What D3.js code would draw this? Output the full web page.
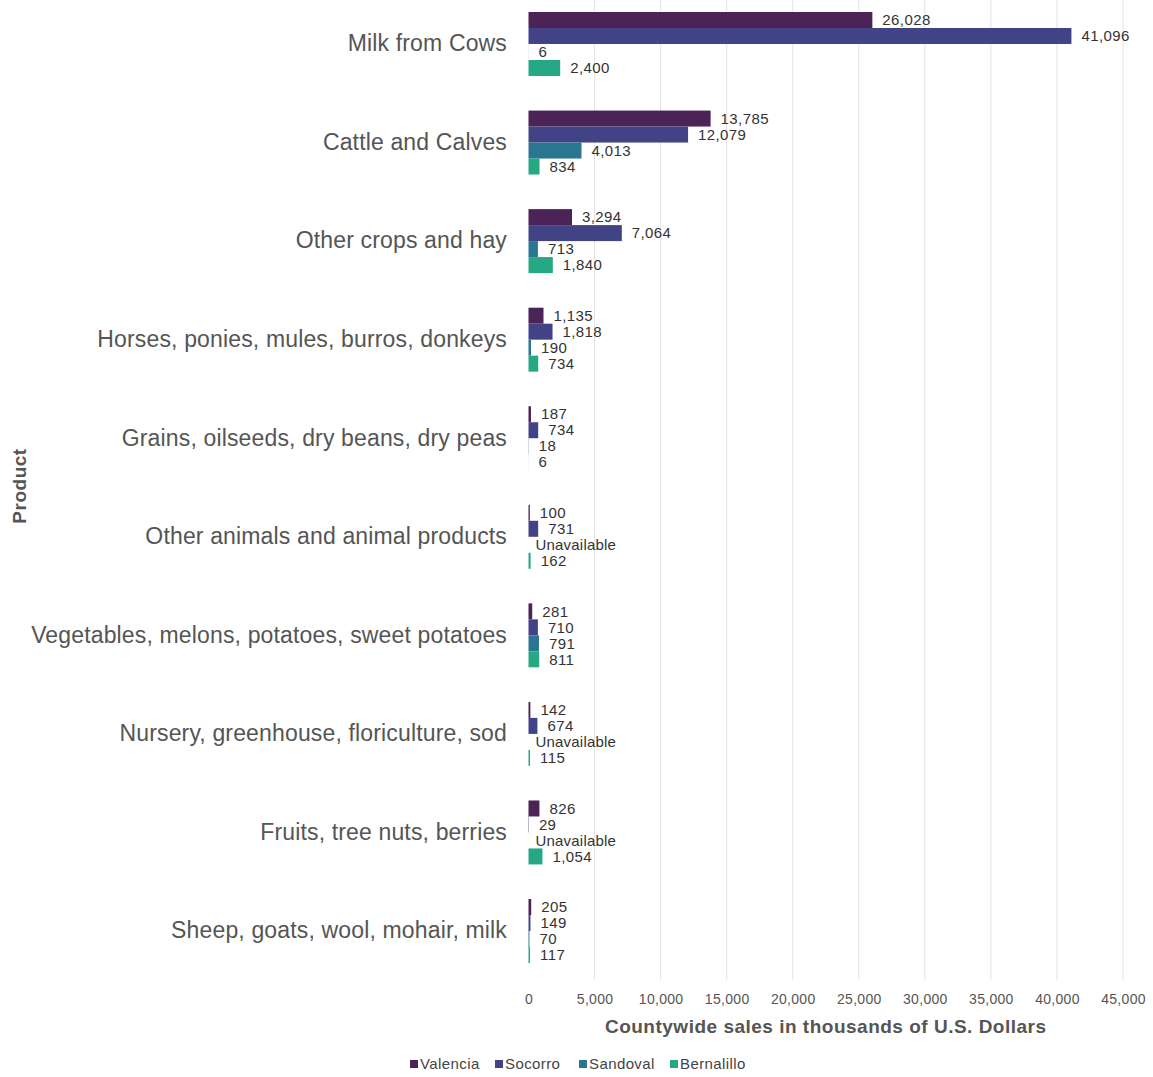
<!DOCTYPE html>
<html><head><meta charset="utf-8">
<script src="https://cdn.jsdelivr.net/npm/d3@7"></script>
<style>body{margin:0;background:#fff;}</style>
</head><body>
<svg id="chart" width="1153" height="1077"></svg>
<script>
const categories = ["Milk from Cows","Cattle and Calves","Other crops and hay","Horses, ponies, mules, burros, donkeys","Grains, oilseeds, dry beans, dry peas","Other animals and animal products","Vegetables, melons, potatoes, sweet potatoes","Nursery, greenhouse, floriculture, sod","Fruits, tree nuts, berries","Sheep, goats, wool, mohair, milk"];
const seriesNames = ["Valencia","Socorro","Sandoval","Bernalillo"];
const valencia   = [26028, 13785, 3294, 1135, 187, 100, 281, 142, 826, 205];
const socorro    = [41096, 12079, 7064, 1818, 734, 731, 710, 674, 29, 149];
const sandoval   = [6, 4013, 713, 190, 18, null, 791, null, null, 70];
const bernalillo = [2400, 834, 1840, 734, 6, 162, 811, 115, 1054, 117];
const colors = ["#4b2356","#424286","#2a7690","#27a884"];
const xTicks = [0,5000,10000,15000,20000,25000,30000,35000,40000,45000];
const xTitle = "Countywide sales in thousands of U.S. Dollars";
const yTitle = "Product";

const seriesVals = [valencia, socorro, sandoval, bernalillo];
const svg = d3.select("#chart");
const font = "'Liberation Sans', Arial, Helvetica, sans-serif";

const x = d3.scaleLinear().domain([0,45000]).range([528.5,1123]);
const y = d3.scaleBand().domain(categories).range([12,963]).paddingInner(0.351).paddingOuter(0);
const ys = d3.scaleBand().domain(seriesNames).range([0,y.bandwidth()]);

// gridlines
svg.append("g").selectAll("line").data(xTicks.slice(1)).join("line")
  .attr("x1",d=>x(d)).attr("x2",d=>x(d)).attr("y1",0).attr("y2",980)
  .attr("stroke","#e3e3e3").attr("stroke-width",1);

// axis ticks labels
const xAxis = d3.axisBottom(x).tickValues(xTicks).tickFormat(d3.format(",")).tickSize(0).tickPadding(0);
const gx = svg.append("g").attr("transform","translate(0,994)").call(xAxis);
gx.select(".domain").remove();
gx.selectAll("text").attr("font-family",font).attr("font-size",14).attr("letter-spacing","0.3px").attr("fill","#555");

// y axis labels
const yAxis = d3.axisLeft(y).tickSize(0).tickPadding(0);
const gy = svg.append("g").attr("transform","translate(507,0)").call(yAxis);
gy.select(".domain").remove();
gy.selectAll("text").attr("font-family",font).attr("font-size",23).attr("letter-spacing","0.15px").attr("fill","#555");

// bars
const groups = svg.append("g").selectAll("g").data(categories).join("g")
  .attr("transform",d=>`translate(0,${y(d)})`);
seriesNames.forEach((s,si)=>{
  groups.each(function(c,ci){
    const v = seriesVals[si][ci];
    const g = d3.select(this);
    const yy = ys(s);
    if (v !== null) {
      g.append("rect").attr("x",x(0)).attr("y",yy).attr("width",Math.max(0,x(v)-x(0)))
        .attr("height",ys.bandwidth()).attr("fill",colors[si]);
      g.append("text").attr("x",x(v)+10).attr("y",yy+ys.bandwidth()/2).attr("dy","0.35em")
        .attr("font-family",font).attr("font-size",15).attr("letter-spacing","0.4px").attr("fill","#333")
        .text(d3.format(",")(v));
    } else {
      g.append("text").attr("x",x(0)+7).attr("y",yy+ys.bandwidth()/2).attr("dy","0.35em")
        .attr("font-family",font).attr("font-size",15).attr("letter-spacing","0.2px").attr("fill","#333")
        .text("Unavailable");
    }
  });
});

// axis titles
svg.append("text").attr("x",(x(0)+x(45000))/2).attr("y",1033).attr("text-anchor","middle")
  .attr("font-family",font).attr("font-size",19).attr("letter-spacing","0.5px").attr("font-weight","bold").attr("fill","#555").text(xTitle);
svg.append("text").attr("transform","translate(26,486) rotate(-90)").attr("text-anchor","middle")
  .attr("font-family",font).attr("font-size",19).attr("letter-spacing","0.5px").attr("font-weight","bold").attr("fill","#555").text(yTitle);

// legend
const legendX = [410, 495, 579, 670];
const lg = svg.append("g").selectAll("g").data(seriesNames).join("g")
  .attr("transform",(d,i)=>`translate(${legendX[i]},1064)`);
lg.append("rect").attr("x",0).attr("y",-4).attr("width",8).attr("height",8).attr("fill",(d,i)=>colors[i]);
lg.append("text").attr("x",10).attr("dy","0.35em").attr("font-family",font).attr("font-size",15).attr("letter-spacing","0.4px").attr("fill","#444").text(d=>d);
</script>
</body></html>
